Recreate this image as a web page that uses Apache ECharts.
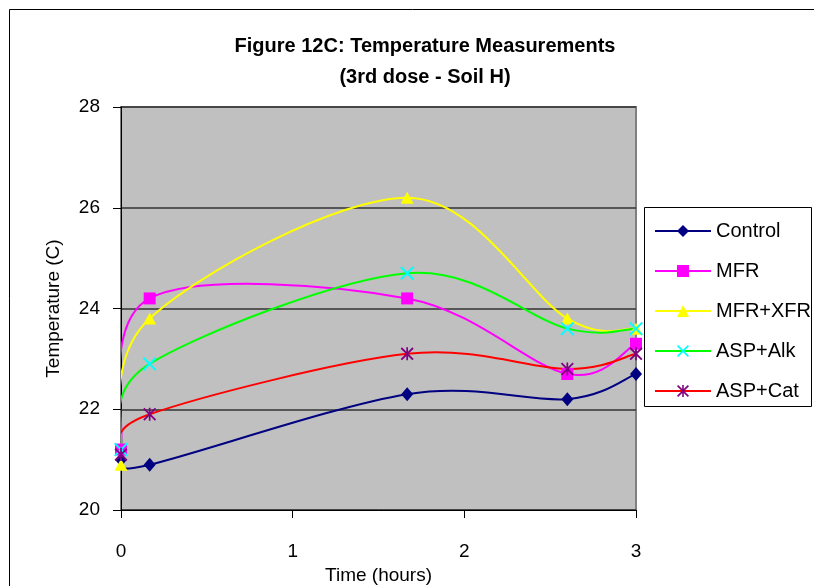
<!DOCTYPE html>
<html>
<head>
<meta charset="utf-8">
<style>
  html, body { margin: 0; padding: 0; background: #ffffff; overflow: hidden; }
  #chart { width: 814px; height: 586px; }
</style>
<script src="https://cdn.jsdelivr.net/npm/echarts@6/dist/echarts.min.js"></script>
</head>
<body>
<div id="chart"></div>
<script>
// Sampling times (hours after the 3rd dose)
const times = [0, 0.167, 1.667, 2.6, 3];

// Soil temperature readings (°C) per treatment
const control = [21.0, 20.9, 22.3, 22.2, 22.7];
const mfr     = [21.2, 24.2, 24.2, 22.7, 23.3];
const mfrXfr  = [20.9, 23.8, 26.2, 23.8, 23.6];
const aspAlk  = [21.2, 22.9, 24.7, 23.6, 23.6];
const aspCat  = [21.1, 21.9, 23.1, 22.8, 23.1];

const seriesNames = ['Control', 'MFR', 'MFR+XFR', 'ASP+Alk', 'ASP+Cat'];
const yTicks = [20, 22, 24, 26, 28];
const xTicks = [0, 1, 2, 3];

// Filled marker outlines: a cross and a six-armed star
const crossPath = 'path://M0,2 L2,0 L10,8 L18,0 L20,2 L12,10 L20,18 L18,20 L10,12 L2,20 L0,18 L8,10 Z';
const starPath = 'path://M0,2 L2,0 L10,8 L18,0 L20,2 L12,10 L20,18 L18,20 L10,12 L2,20 L0,18 L8,10 Z M8.7,0 L11.3,0 L11.3,20 L8.7,20 Z';

const FONT = '"Liberation Sans", Arial, sans-serif';

function pairs(values) {
  return times.map((t, i) => [t, values[i]]);
}

// Smoothed curve through the points: cubic Bezier segments whose
// control points follow the neighbouring points (Catmull-Rom, 1/6 tension).
function curveRenderer(values, color) {
  return function (params, api) {
    if (params.dataIndex !== 0) return null;
    const pts = values.map((v, i) => api.coord([times[i], v]));
    const segs = [];
    for (let i = 0; i < pts.length - 1; i++) {
      const p0 = pts[i - 1] || pts[i];
      const p1 = pts[i];
      const p2 = pts[i + 1];
      const p3 = pts[i + 2] || pts[i + 1];
      segs.push({
        type: 'bezierCurve',
        shape: {
          x1: p1[0], y1: p1[1],
          x2: p2[0], y2: p2[1],
          cpx1: p1[0] + (p2[0] - p0[0]) / 6,
          cpy1: p1[1] + (p2[1] - p0[1]) / 6,
          cpx2: p2[0] - (p3[0] - p1[0]) / 6,
          cpy2: p2[1] - (p3[1] - p1[1]) / 6
        },
        style: { stroke: color, fill: 'none', lineWidth: 2 }
      });
    }
    return { type: 'group', children: segs };
  };
}

function curveSeries(name, values, color) {
  return {
    name: name,
    type: 'custom',
    data: pairs(values),
    encode: { x: 0, y: 1 },
    renderItem: curveRenderer(values, color),
    clip: true,
    silent: true,
    z: 2,
    animation: false
  };
}

function markerSeries(name, values, lineColor, markColor, symbol, size) {
  return {
    name: name,
    type: 'line',
    data: pairs(values),
    symbol: symbol,
    symbolSize: size,
    showAllSymbol: true,
    lineStyle: { color: lineColor, width: 2, opacity: 0 },
    itemStyle: { color: markColor, borderWidth: 0 },
    emphasis: { disabled: true },
    z: 3,
    animation: false
  };
}

const chart = echarts.init(document.getElementById('chart'), null, { renderer: 'canvas' });

chart.setOption({
  backgroundColor: '#ffffff',
  animation: false,
  title: {
    text: 'Figure 12C: Temperature Measurements\n(3rd dose - Soil H)',
    left: 420,
    top: 26,
    textAlign: 'center',
    textStyle: {
      fontFamily: FONT,
      fontWeight: 'bold',
      fontSize: 20,
      lineHeight: 31,
      color: '#000000'
    }
  },
  graphic: [
    {
      type: 'rect',
      shape: { x: 9.5, y: 9.5, width: 900, height: 700 },
      style: { fill: 'none', stroke: '#000000', lineWidth: 1 },
      z: -10
    },
    {
      type: 'rect',
      shape: { x: 644.5, y: 207.5, width: 167, height: 199 },
      style: { fill: '#ffffff', stroke: '#000000', lineWidth: 1 },
      z: 5
    }
  ],
  legend: {
    orient: 'vertical',
    left: 654,
    top: 221,
    padding: 0,
    itemWidth: 56,
    itemHeight: 15,
    itemGap: 20,
    z: 10,
    data: seriesNames,
    lineStyle: { opacity: 1, width: 2 },
    textStyle: { fontFamily: FONT, fontSize: 20, lineHeight: 20, color: '#000000' }
  },
  grid: {
    left: 121,
    right: 178,
    top: 107,
    bottom: 76,
    outerBoundsMode: 'none',
    containLabel: false,
    show: true,
    backgroundColor: '#c0c0c0',
    borderColor: '#808080',
    borderWidth: 2
  },
  xAxis: {
    type: 'value',
    min: xTicks[0],
    max: xTicks[xTicks.length - 1],
    interval: 1,
    name: 'Time (hours)',
    nameLocation: 'middle',
    nameGap: 43,
    nameTextStyle: { fontFamily: FONT, fontSize: 19, color: '#000000' },
    axisLine: { show: true, onZero: false, lineStyle: { color: '#000000', width: 1 } },
    axisTick: { show: true, inside: false, length: 8, lineStyle: { color: '#000000' } },
    axisLabel: { fontFamily: FONT, fontSize: 19, color: '#000000', margin: 32 },
    splitLine: { show: false }
  },
  yAxis: {
    type: 'value',
    min: yTicks[0],
    max: yTicks[yTicks.length - 1],
    interval: 2,
    name: 'Temperature (C)',
    nameLocation: 'middle',
    nameGap: 58,
    nameTextStyle: { fontFamily: FONT, fontSize: 19, color: '#000000' },
    axisLine: { show: true, lineStyle: { color: '#000000', width: 1 } },
    axisTick: { show: true, inside: false, length: 8, lineStyle: { color: '#000000' } },
    axisLabel: { fontFamily: FONT, fontSize: 19, color: '#000000', margin: 21 },
    splitLine: { show: true, lineStyle: { color: '#333333', width: 1.5 } }
  },
  series: [
    markerSeries('Control', control, '#000080', '#000080', 'diamond', [12, 14]),
    markerSeries('MFR', mfr, '#ff00ff', '#ff00ff', 'rect', 12),
    markerSeries('MFR+XFR', mfrXfr, '#ffff00', '#ffff00', 'triangle', [13, 12]),
    markerSeries('ASP+Alk', aspAlk, '#00ff00', '#00ffff', crossPath, 14),
    markerSeries('ASP+Cat', aspCat, '#ff0000', '#800080', starPath, 13),
    curveSeries('Control', control, '#000080'),
    curveSeries('MFR', mfr, '#ff00ff'),
    curveSeries('MFR+XFR', mfrXfr, '#ffff00'),
    curveSeries('ASP+Alk', aspAlk, '#00ff00'),
    curveSeries('ASP+Cat', aspCat, '#ff0000')
  ]
});
</script>
</body>
</html>
